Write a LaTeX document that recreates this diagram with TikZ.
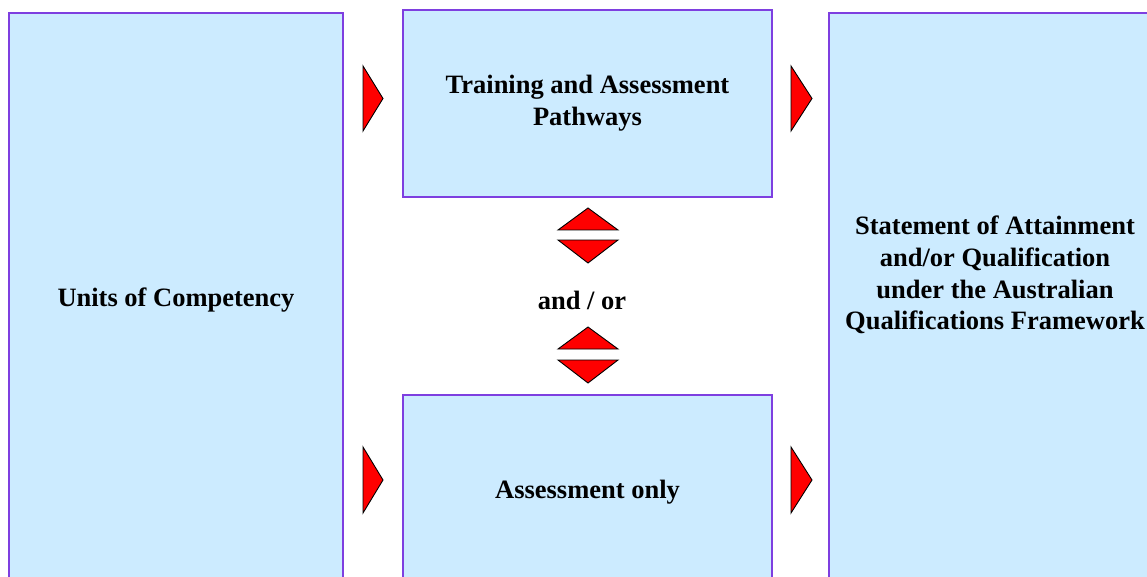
\documentclass[tikz,border=0pt]{standalone}
\usepackage{fontspec}
\setmainfont{Liberation Serif}
\definecolor{boxfill}{HTML}{CCEBFF}
\definecolor{boxline}{HTML}{7E3FE0}
\tikzset{
  panel/.style={draw=boxline, line width=1.8pt, fill=boxfill},
  lbl/.style={font=\fontsize{26.5}{31.7}\selectfont\bfseries, align=center, inner sep=0pt},
  tri/.style={draw=black, line width=0.9pt, fill=red, line join=miter}
}
\begin{document}
\begin{tikzpicture}[x=1pt,y=-1pt]
\useasboundingbox (0,0) rectangle (1147,577);
\begin{scope}
\clip (0,0) rectangle (1147,577);
% boxes
\path[panel] (9,13) rectangle (343,620);
\path[panel] (403,10) rectangle (772,197);
\path[panel] (403,395) rectangle (772,620);
\path[panel] (829,13) rectangle (1161,620);
% texts
\node[lbl] (tUnits) at (176,300) {Units of Competency};
\node[lbl] (tTrain) at (587.5,103) {Training and Assessment\\Pathways};
\node[lbl] (tAssess) at (587.5,492) {Assessment only};
\node[lbl] (tState) at (995,275) {Statement of Attainment\\and/or Qualification\\under the Australian\\Qualifications Framework};
\node[lbl] (tAndOr) at (582,300) {and / or};
% right-pointing triangles
\path[tri] (363,66) -- (363,131) -- (383,98.5) -- cycle;
\path[tri] (363,447) -- (363,513) -- (383,480) -- cycle;
\path[tri] (791,66) -- (791,131) -- (812,98.5) -- cycle;
\path[tri] (791,447) -- (791,513) -- (812,480) -- cycle;
% up/down triangles
\path[tri] (558,230) -- (618,230) -- (588,208) -- cycle;
\path[tri] (558,240) -- (618,240) -- (588,263) -- cycle;
\path[tri] (558,349) -- (618,349) -- (588,327) -- cycle;
\path[tri] (558,360) -- (618,360) -- (588,383) -- cycle;
\end{scope}
\end{tikzpicture}
\end{document}
